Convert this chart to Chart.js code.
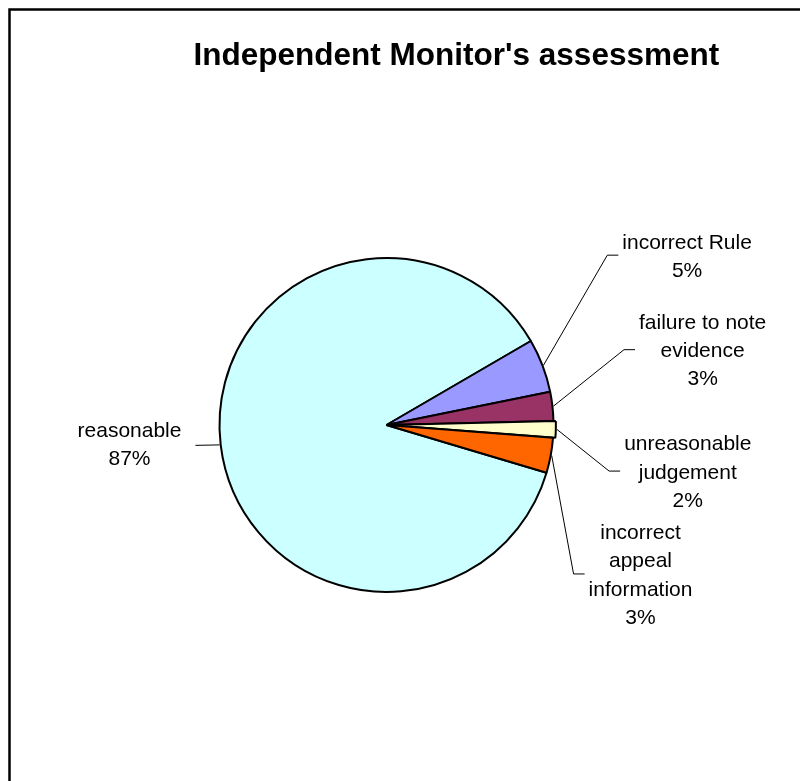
<!DOCTYPE html>
<html>
<head>
<meta charset="utf-8">
<title>Independent Monitor's assessment</title>
<script src="https://cdn.jsdelivr.net/npm/chart.js@4.4.0/dist/chart.umd.min.js"></script>
<style>
    html, body { margin: 0; padding: 0; background: #fff; }
    #wrap { width: 800px; height: 781px; }
</style>
</head>
<body>
<div id="wrap"><canvas id="assessmentChart" width="800" height="781"></canvas></div>
<script>
const chartTitle = "Independent Monitor's assessment";
// categories, already broken into the lines shown on the chart
const categories = [
    ['reasonable'],
    ['incorrect Rule'],
    ['failure to note', 'evidence'],
    ['unreasonable', 'judgement'],
    ['incorrect', 'appeal', 'information']
];
const shares = [87.0, 5.2, 2.8, 1.6, 3.4];

const sliceColors = ['#CCFFFF', '#9999FF', '#993366', '#FFFFCC', '#FF6600'];
// label block centres relative to the pie centre, in radii
const labelSpots = [[-1.539, 0.110], [1.80, -1.017], [1.893, -0.451], [1.804, 0.276], [1.521, 0.892]];
const LABEL_FONT = '21px "Liberation Sans", Arial, sans-serif';
const LINE_H = 28.3;

const outsideLabels = {
    id: 'outsideLabels',
    afterDatasetsDraw(chart) {
        const ctx = chart.ctx;
        const meta = chart.getDatasetMeta(0);
        const total = shares.reduce((a, b) => a + b, 0);
        ctx.save();
        ctx.font = LABEL_FONT;
        ctx.fillStyle = '#000';
        ctx.strokeStyle = '#000';
        ctx.lineWidth = 1;
        ctx.textAlign = 'center';
        ctx.textBaseline = 'alphabetic';
        meta.data.forEach((arc, i) => {
            const p = arc.getProps(['x', 'y', 'startAngle', 'endAngle', 'outerRadius'], true);
            const mid = (p.startAngle + p.endAngle) / 2;
            const push = (arc.options.offset || 0) / 2;
            const lines = categories[i].concat(Math.round(shares[i] / total * 100) + '%');
            const w = Math.max(...lines.map(t => ctx.measureText(t).width));
            const cx = p.x + labelSpots[i][0] * p.outerRadius;
            const cy = p.y + labelSpots[i][1] * p.outerRadius;

            // leader line from the rim of the slice to the label
            const r = p.outerRadius + 1 + push;
            const sx = p.x + Math.cos(mid) * r;
            const sy = p.y + Math.sin(mid) * r;
            ctx.beginPath();
            ctx.moveTo(sx, sy);
            if (cx > p.x) {
                const endX = cx - w / 2 - 4;
                ctx.lineTo(endX - 11, cy);
                ctx.lineTo(endX, cy);
            } else {
                ctx.lineTo(cx + w / 2 + 14, cy + 2);
            }
            ctx.stroke();

            lines.forEach((t, k) => {
                ctx.fillText(t, cx, cy + (k - (lines.length - 1) / 2) * LINE_H + 7.5);
            });
        });
        ctx.restore();
    },
    afterDraw(chart) {
        const ctx = chart.ctx;
        ctx.save();
        // chart frame (only top and left edges fall inside the picture)
        ctx.strokeStyle = '#000';
        ctx.lineWidth = 2.5;
        ctx.strokeRect(9.5, 9.5, 820, 820);
        ctx.font = 'bold 31.5px "Liberation Sans", Arial, sans-serif';
        ctx.fillStyle = '#000';
        ctx.textAlign = 'center';
        ctx.textBaseline = 'alphabetic';
        ctx.fillText(chartTitle, 456.4, 65);
        ctx.restore();
    }
};

document.addEventListener('DOMContentLoaded', function() {
    const ctx = document.getElementById('assessmentChart').getContext('2d');
    const assessmentChart = new Chart(ctx, {
        type: 'pie',
        data: {
            labels: categories,
            datasets: [{
                data: shares,
                backgroundColor: sliceColors,
                borderColor: '#000',
                borderWidth: 2,
                offset: [0, 0, 0, 5, 0]
            }]
        },
        options: {
            responsive: false,
            animation: false,
            rotation: 106.6,
            radius: 167,
            layout: { padding: { left: 0, right: 27, top: 69, bottom: 0 } },
            plugins: {
                legend: { display: false },
                tooltip: { enabled: false },
                title: { display: false }
            }
        },
        plugins: [outsideLabels]
    });
});
</script>
</body>
</html>
